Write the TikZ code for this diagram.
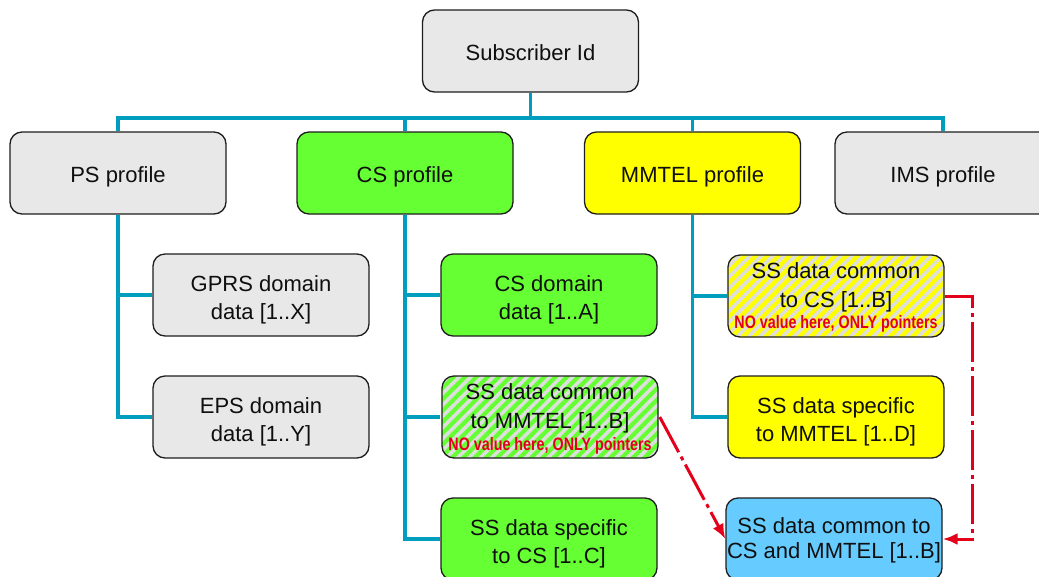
\documentclass[tikz,border=0pt]{standalone}
\usepackage{fontspec}
\setmainfont{Liberation Sans}
\usepackage{graphicx}
\usetikzlibrary{patterns.meta,arrows.meta}
\definecolor{conncol}{RGB}{0,158,190}
\definecolor{boxgray}{RGB}{232,232,232}
\definecolor{csgreen}{RGB}{102,255,51}
\definecolor{mmyellow}{RGB}{255,255,0}
\definecolor{skyblue}{RGB}{102,204,255}
\definecolor{ptrred}{RGB}{228,0,27}
\definecolor{stripecol}{RGB}{222,222,222}
\definecolor{edgecol}{RGB}{30,30,30}
\definecolor{txtcol}{RGB}{15,15,15}
\begin{document}
\begin{tikzpicture}[x=1pt,y=-1pt,
  box/.style={draw=edgecol,line width=1.3pt,rounded corners=12pt,
    minimum width=216pt,minimum height=82pt,inner sep=0pt,align=center,
    font=\fontsize{22}{28}\selectfont,text=txtcol},
  oneline/.style={text height=18pt,text depth=0pt},
  graybox/.style={box,fill=boxgray},
  greenbox/.style={box,fill=csgreen},
  yellowbox/.style={box,fill=mmyellow},
  bluebox/.style={box,fill=skyblue},
  greenhatch/.style={box,preaction={fill=csgreen},
    pattern={Lines[angle=45,distance=8pt,line width=3.5pt]},pattern color=stripecol},
  yellowhatch/.style={box,preaction={fill=mmyellow},
    pattern={Lines[angle=45,distance=8pt,line width=3.5pt]},pattern color=stripecol},
  txt/.style={inner sep=0pt,align=center,font=\fontsize{22}{28}\selectfont,text=txtcol},
  hatchtxt/.style={inner sep=0pt,align=center,font=\fontsize{22}{29}\selectfont,text=txtcol},
  note/.style={inner sep=0pt,font=\fontsize{18}{20}\selectfont\bfseries,text=ptrred},
  conn/.style={draw=conncol,line width=3.2pt},
  ptr/.style={draw=ptrred,line width=3pt,dash pattern=on 40pt off 5pt on 4pt off 5pt,
    -{Latex[length=15pt,width=12pt]}}
]
\clip (0,0) rectangle (1039,576);
\fill[white] (0,0) rectangle (1039,576);

% top level
\node[graybox,oneline] (sub) at (530.5,51) {Subscriber Id};
\node[graybox,oneline] (ps) at (118,173) {PS profile};
\node[greenbox,oneline] (cs) at (405,173) {CS profile};
\node[yellowbox,oneline] (mm) at (692.5,173) {MMTEL profile};
\node[graybox,oneline] (ims) at (943,173) {IMS profile};

% PS children
\node[graybox] (gprs) at (261,295) {};
\node[txt] (gprst) at (261,299.5) {GPRS domain\\data [1..X]};
\node[graybox] (eps) at (261,417) {};
\node[txt] (epst) at (261,421.5) {EPS domain\\data [1..Y]};

% CS children
\node[greenbox] (csd) at (549,295) {};
\node[txt] (csdt) at (549,299.5) {CS domain\\data [1..A]};
\node[greenhatch] (sscm) at (550,417) {};
\node[hatchtxt] (sscmt) at (550,408.5) {SS data common\\to MMTEL [1..B]};
\node[note,anchor=base] (sscmn) at (550,450.5) {\scalebox{0.795}[1]{NO value here, ONLY pointers}};
\node[greenbox] (sssc) at (549,539) {};
\node[txt] (sssct) at (549,543.5) {SS data specific\\to CS [1..C]};

% MMTEL children
\node[yellowhatch] (sscc) at (836,296) {};
\node[hatchtxt] (sscct) at (836,287.5) {SS data common\\to CS [1..B]};
\node[note,anchor=base] (ssccn) at (836,328.5) {\scalebox{0.795}[1]{NO value here, ONLY pointers}};
\node[yellowbox] (ssm) at (836,417) {};
\node[txt] (ssmt) at (836,421.5) {SS data specific\\to MMTEL [1..D]};
\node[bluebox] (blue) at (834,539) {};
\node[txt,font=\fontsize{22}{25}\selectfont] (bluet) at (834,540) {SS data common to\\CS and MMTEL [1..B]};

% tree connectors
\coordinate (bus) at (530.5,118);
\draw[conn] (sub.south) -- (bus);
\draw[conn] (ps.north) |- (bus) -| (ims.north);
\draw[conn] (cs.north) -- (cs.north |- bus);
\draw[conn] (mm.north) -- (mm.north |- bus);
\draw[conn] (ps.south) |- (gprs.west);
\draw[conn] (ps.south) |- (eps.west);
\draw[conn] (cs.south) |- (csd.west);
\draw[conn] (cs.south) |- (sscm.west);
\draw[conn] (cs.south) |- (sssc.west);
\draw[conn] (mm.south) |- (sscc.west);
\draw[conn] (mm.south) |- (ssm.west);

% pointer arrows
\draw[ptr] (sscm.east) -- (blue.west);
\draw[ptr] (sscc.east) -- ++(28,0) |- (blue.east);
\end{tikzpicture}
\end{document}
